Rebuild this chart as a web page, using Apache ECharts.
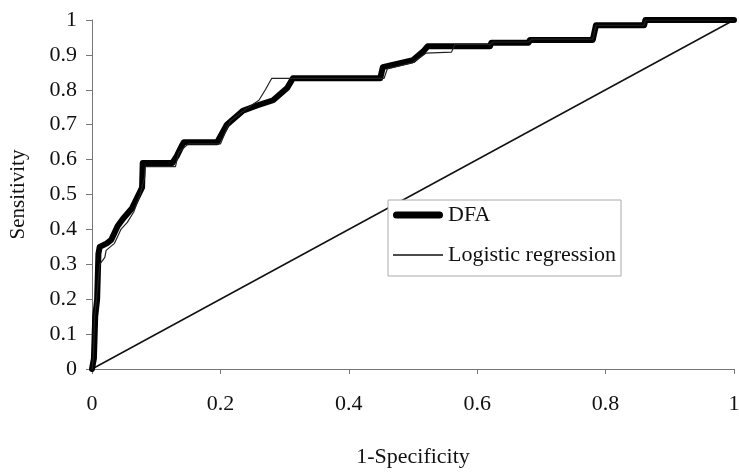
<!DOCTYPE html>
<html>
<head>
<meta charset="utf-8">
<script src="https://cdn.jsdelivr.net/npm/echarts@6/dist/echarts.min.js"></script>
<style>
  html, body { margin: 0; padding: 0; background: #fff; }
  #chart { width: 739px; height: 474px; }
</style>
</head>
<body>
<div id="chart"></div>
<script>
// ROC curves: [1-specificity, sensitivity]
const dfaPoints = [
  [0, 0], [0.003, 0.03], [0.005, 0.15], [0.008, 0.2], [0.01, 0.33], [0.012, 0.35],
  [0.023, 0.36], [0.03, 0.37], [0.04, 0.41], [0.048, 0.43], [0.062, 0.46], [0.07, 0.49],
  [0.078, 0.52], [0.079, 0.59], [0.125, 0.59], [0.132, 0.61], [0.14, 0.64], [0.143, 0.65],
  [0.195, 0.65], [0.21, 0.7], [0.235, 0.74], [0.257, 0.755], [0.282, 0.77], [0.304, 0.805],
  [0.313, 0.833], [0.449, 0.833], [0.453, 0.865], [0.5, 0.885], [0.516, 0.91], [0.523, 0.925],
  [0.62, 0.925], [0.622, 0.935], [0.68, 0.935], [0.682, 0.943], [0.78, 0.943], [0.785, 0.985],
  [0.86, 0.985], [0.862, 1], [1, 1]
];
const logisticPoints = [
  [0, 0], [0.002, 0.03], [0.004, 0.15], [0.007, 0.2], [0.012, 0.3], [0.02, 0.32],
  [0.022, 0.34], [0.035, 0.36], [0.045, 0.4], [0.055, 0.42], [0.065, 0.45], [0.075, 0.5],
  [0.082, 0.55], [0.083, 0.58], [0.13, 0.58], [0.135, 0.62], [0.15, 0.645], [0.2, 0.645],
  [0.215, 0.71], [0.24, 0.745], [0.26, 0.77], [0.27, 0.8], [0.28, 0.833], [0.455, 0.833],
  [0.46, 0.86], [0.5, 0.878], [0.52, 0.905], [0.56, 0.908], [0.565, 0.93], [0.62, 0.93],
  [0.625, 0.937], [0.68, 0.937], [0.685, 0.945], [0.78, 0.945], [0.785, 0.985], [0.86, 0.985],
  [0.862, 1], [1, 1]
];
const chancePoints = [[0, 0], [1, 1]];
const seriesNames = ['DFA', 'Logistic regression'];

const FONT = 'Liberation Serif';
// legend keys: thick rounded bar for DFA, hairline for logistic regression
const THICK_KEY = 'path://M3.5,0H46.5A3.5,3.5,0,0,1,46.5,7H3.5A3.5,3.5,0,0,1,3.5,0Z';
const THIN_KEY = 'path://M0,0H50V1.3H0Z';

const chart = echarts.init(document.getElementById('chart'));

chart.setOption({
  animation: false,
  backgroundColor: '#fff',
  grid: { left: 92, right: 5, top: 20, bottom: 105, outerBoundsMode: 'none' },
  legend: {
    data: [
      { name: seriesNames[0], icon: THICK_KEY, itemStyle: { color: '#000' } },
      { name: seriesNames[1], icon: THIN_KEY, itemStyle: { color: '#111' } }
    ],
    orient: 'vertical',
    left: 388,
    top: 200,
    itemWidth: 50,
    itemHeight: 14,
    itemGap: 18,
    padding: [4, 5, 10, 5],
    backgroundColor: '#fff',
    borderColor: '#aaa',
    borderWidth: 1,
    borderRadius: 0,
    textStyle: { fontFamily: FONT, fontSize: 22, color: '#111' }
  },
  xAxis: {
    type: 'value',
    min: 0,
    max: 1,
    interval: 0.2,
    name: '1-Specificity',
    nameLocation: 'middle',
    nameGap: 77,
    nameTextStyle: { fontFamily: FONT, fontSize: 22, color: '#111' },
    axisLine: { lineStyle: { color: '#777', width: 1 } },
    axisTick: { show: true, length: 5, lineStyle: { color: '#777' } },
    axisLabel: { fontFamily: FONT, fontSize: 22, color: '#111', margin: 24 },
    splitLine: { show: false }
  },
  yAxis: {
    type: 'value',
    min: 0,
    max: 1,
    interval: 0.1,
    name: 'Sensitivity',
    nameLocation: 'middle',
    nameGap: 63,
    nameTextStyle: { fontFamily: FONT, fontSize: 21, color: '#111' },
    axisLine: { show: true, lineStyle: { color: '#777', width: 1 } },
    axisTick: { show: true, length: 6, lineStyle: { color: '#777' } },
    axisLabel: {
      fontFamily: FONT, fontSize: 22, color: '#111', margin: 15,
      formatter: (v) => String(Math.round(v * 10) / 10)
    },
    splitLine: { show: false }
  },
  series: [
    {
      name: 'chance',
      type: 'line',
      data: chancePoints,
      symbol: 'none',
      lineStyle: { color: '#111', width: 1.5 },
      z: 1
    },
    {
      name: seriesNames[0],
      type: 'line',
      data: dfaPoints,
      symbol: 'none',
      lineStyle: { color: '#000', width: 6, join: 'round', cap: 'round' },
      itemStyle: { color: '#000' },
      z: 2
    },
    {
      name: seriesNames[1],
      type: 'line',
      data: logisticPoints,
      symbol: 'none',
      lineStyle: { color: '#222', width: 1.2 },
      itemStyle: { color: '#222' },
      z: 3
    }
  ]
});
</script>
</body>
</html>
